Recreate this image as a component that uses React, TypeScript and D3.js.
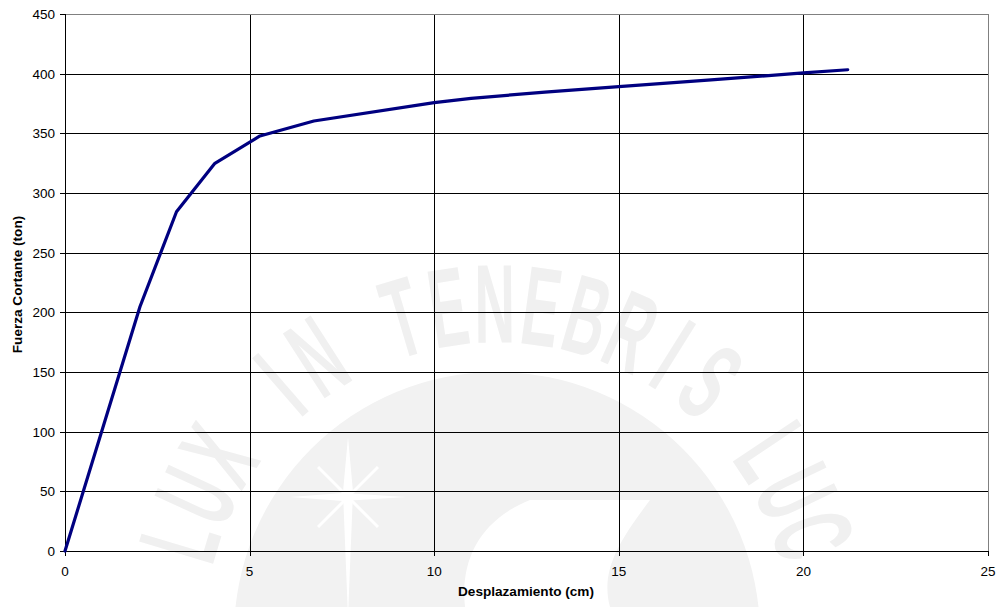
import React from "react";
import * as d3 from "d3";

const displacement = [0, 2.03, 3.02, 4.06, 5.28, 6.74, 10.0, 11.0, 13.0, 15.0, 17.5, 20.0, 21.2];
const shear = [0, 204.7, 284.3, 324.9, 347.8, 360.3, 375.7, 379.3, 384.6, 389.1, 394.8, 400.6, 403.3];
const xTicks = [0, 5, 10, 15, 20, 25];
const yTicks = [0, 50, 100, 150, 200, 250, 300, 350, 400, 450];
const xTitle = "Desplazamiento (cm)";
const yTitle = "Fuerza Cortante (ton)";
const watermarkText = "LUX IN TENEBRIS LUC";

const W = 997;
const H = 607;
const left = 65, right = 988, top = 14, bottom = 551;

export default function App() {
  const x = d3.scaleLinear().domain([0, 25]).range([left, right]);
  const y = d3.scaleLinear().domain([0, 450]).range([bottom, top]);
  const pts = displacement.map((d, i) => [d, shear[i]] as [number, number]);
  const line = d3.line<[number, number]>().x(d => x(d[0])).y(d => y(d[1]));
  const px = (v: number) => Math.round(v) + 0.5;

  // watermark geometry
  const cx = 497, cy = 635, rText = 331;
  const startAngle = 196.7, step = 8.1;
  const letters = watermarkText.split("");

  const font = "'Liberation Sans', Arial, sans-serif";

  return (
    <svg width={W} height={H} style={{ position: "absolute", left: 0, top: 0, background: "#fff" }}>
      {/* watermark */}
      <g>
        <circle cx={cx} cy={cy} r={263} fill="#f2f2f2" />
        {letters.map((ch, i) => {
          if (ch === " ") return null;
          const a = startAngle + i * step;
          const rad = (a * Math.PI) / 180;
          const lx = cx + rText * Math.cos(rad);
          const ly = cy + rText * Math.sin(rad);
          return (
            <text
              key={i}
              transform={`translate(${lx},${ly}) rotate(${a + 90}) scale(0.5,1)`}
              textAnchor="middle"
              dominantBaseline="central"
              fontFamily={font}
              fontWeight="bold"
              fontSize={112}
              fill="#f0f0f0"
            >
              {ch}
            </text>
          );
        })}
        {/* star */}
        <g fill="#ffffff" transform="translate(348,497)">
          <path d="M0,-60 L5,-5 L0,120 L-5,-5 Z" />
          <path d="M-58,0 L-5,-4 L58,0 L-5,4 Z" />
          <path d="M-30,-30 L30,30" stroke="#fff" strokeWidth={3} />
          <path d="M30,-30 L-30,30" stroke="#fff" strokeWidth={3} />
        </g>
        <path
          d="M530,500 L650,500 C620,540 600,570 610,607 L465,607 C460,560 480,520 530,500 Z"
          fill="#ffffff"
        />
      </g>

      {/* grid */}
      {yTicks.filter(t => t > 0 && t < 450).map(t => (
        <line key={"gy" + t} x1={left} x2={right} y1={px(y(t))} y2={px(y(t))} stroke="#000" strokeWidth={1} shapeRendering="crispEdges" />
      ))}
      {xTicks.filter(t => t > 0 && t < 25).map(t => (
        <line key={"gx" + t} x1={px(x(t))} x2={px(x(t))} y1={top} y2={bottom} stroke="#000" strokeWidth={1} shapeRendering="crispEdges" />
      ))}
      {/* border top/right */}
      <line x1={left} x2={right} y1={px(y(450))} y2={px(y(450))} stroke="#808080" strokeWidth={1} shapeRendering="crispEdges" />
      <line x1={px(x(25))} x2={px(x(25))} y1={top} y2={bottom} stroke="#808080" strokeWidth={1} shapeRendering="crispEdges" />

      {/* axes */}
      <line x1={px(left)} x2={px(left)} y1={top} y2={bottom + 1} stroke="#000" strokeWidth={1} shapeRendering="crispEdges" />
      <line x1={left} x2={right} y1={px(bottom)} y2={px(bottom)} stroke="#000" strokeWidth={1} shapeRendering="crispEdges" />

      {yTicks.map(t => (
        <g key={"ty" + t}>
          <line x1={left - 5} x2={left} y1={px(y(t))} y2={px(y(t))} stroke="#000" shapeRendering="crispEdges" />
          <text x={55} y={y(t)} dy="0.36em" textAnchor="end" fontFamily={font} fontSize={13.5} fill="#000">{t}</text>
        </g>
      ))}
      {xTicks.map(t => (
        <g key={"tx" + t}>
          <line x1={px(x(t))} x2={px(x(t))} y1={bottom} y2={bottom + 5} stroke="#000" shapeRendering="crispEdges" />
          <text x={x(t)} y={576} textAnchor="middle" fontFamily={font} fontSize={13.5} fill="#000">{t}</text>
        </g>
      ))}

      <text x={526} y={596} textAnchor="middle" fontFamily={font} fontSize={13.6} fontWeight="bold" fill="#000">{xTitle}</text>
      <text transform={`translate(22,${(top + bottom) / 2 + 2}) rotate(-90)`} textAnchor="middle" fontFamily={font} fontSize={13.6} fontWeight="bold" fill="#000">{yTitle}</text>

      <path d={line(pts) || ""} fill="none" stroke="#000080" strokeWidth={3.2} strokeLinejoin="round" strokeLinecap="round" />
    </svg>
  );
}
